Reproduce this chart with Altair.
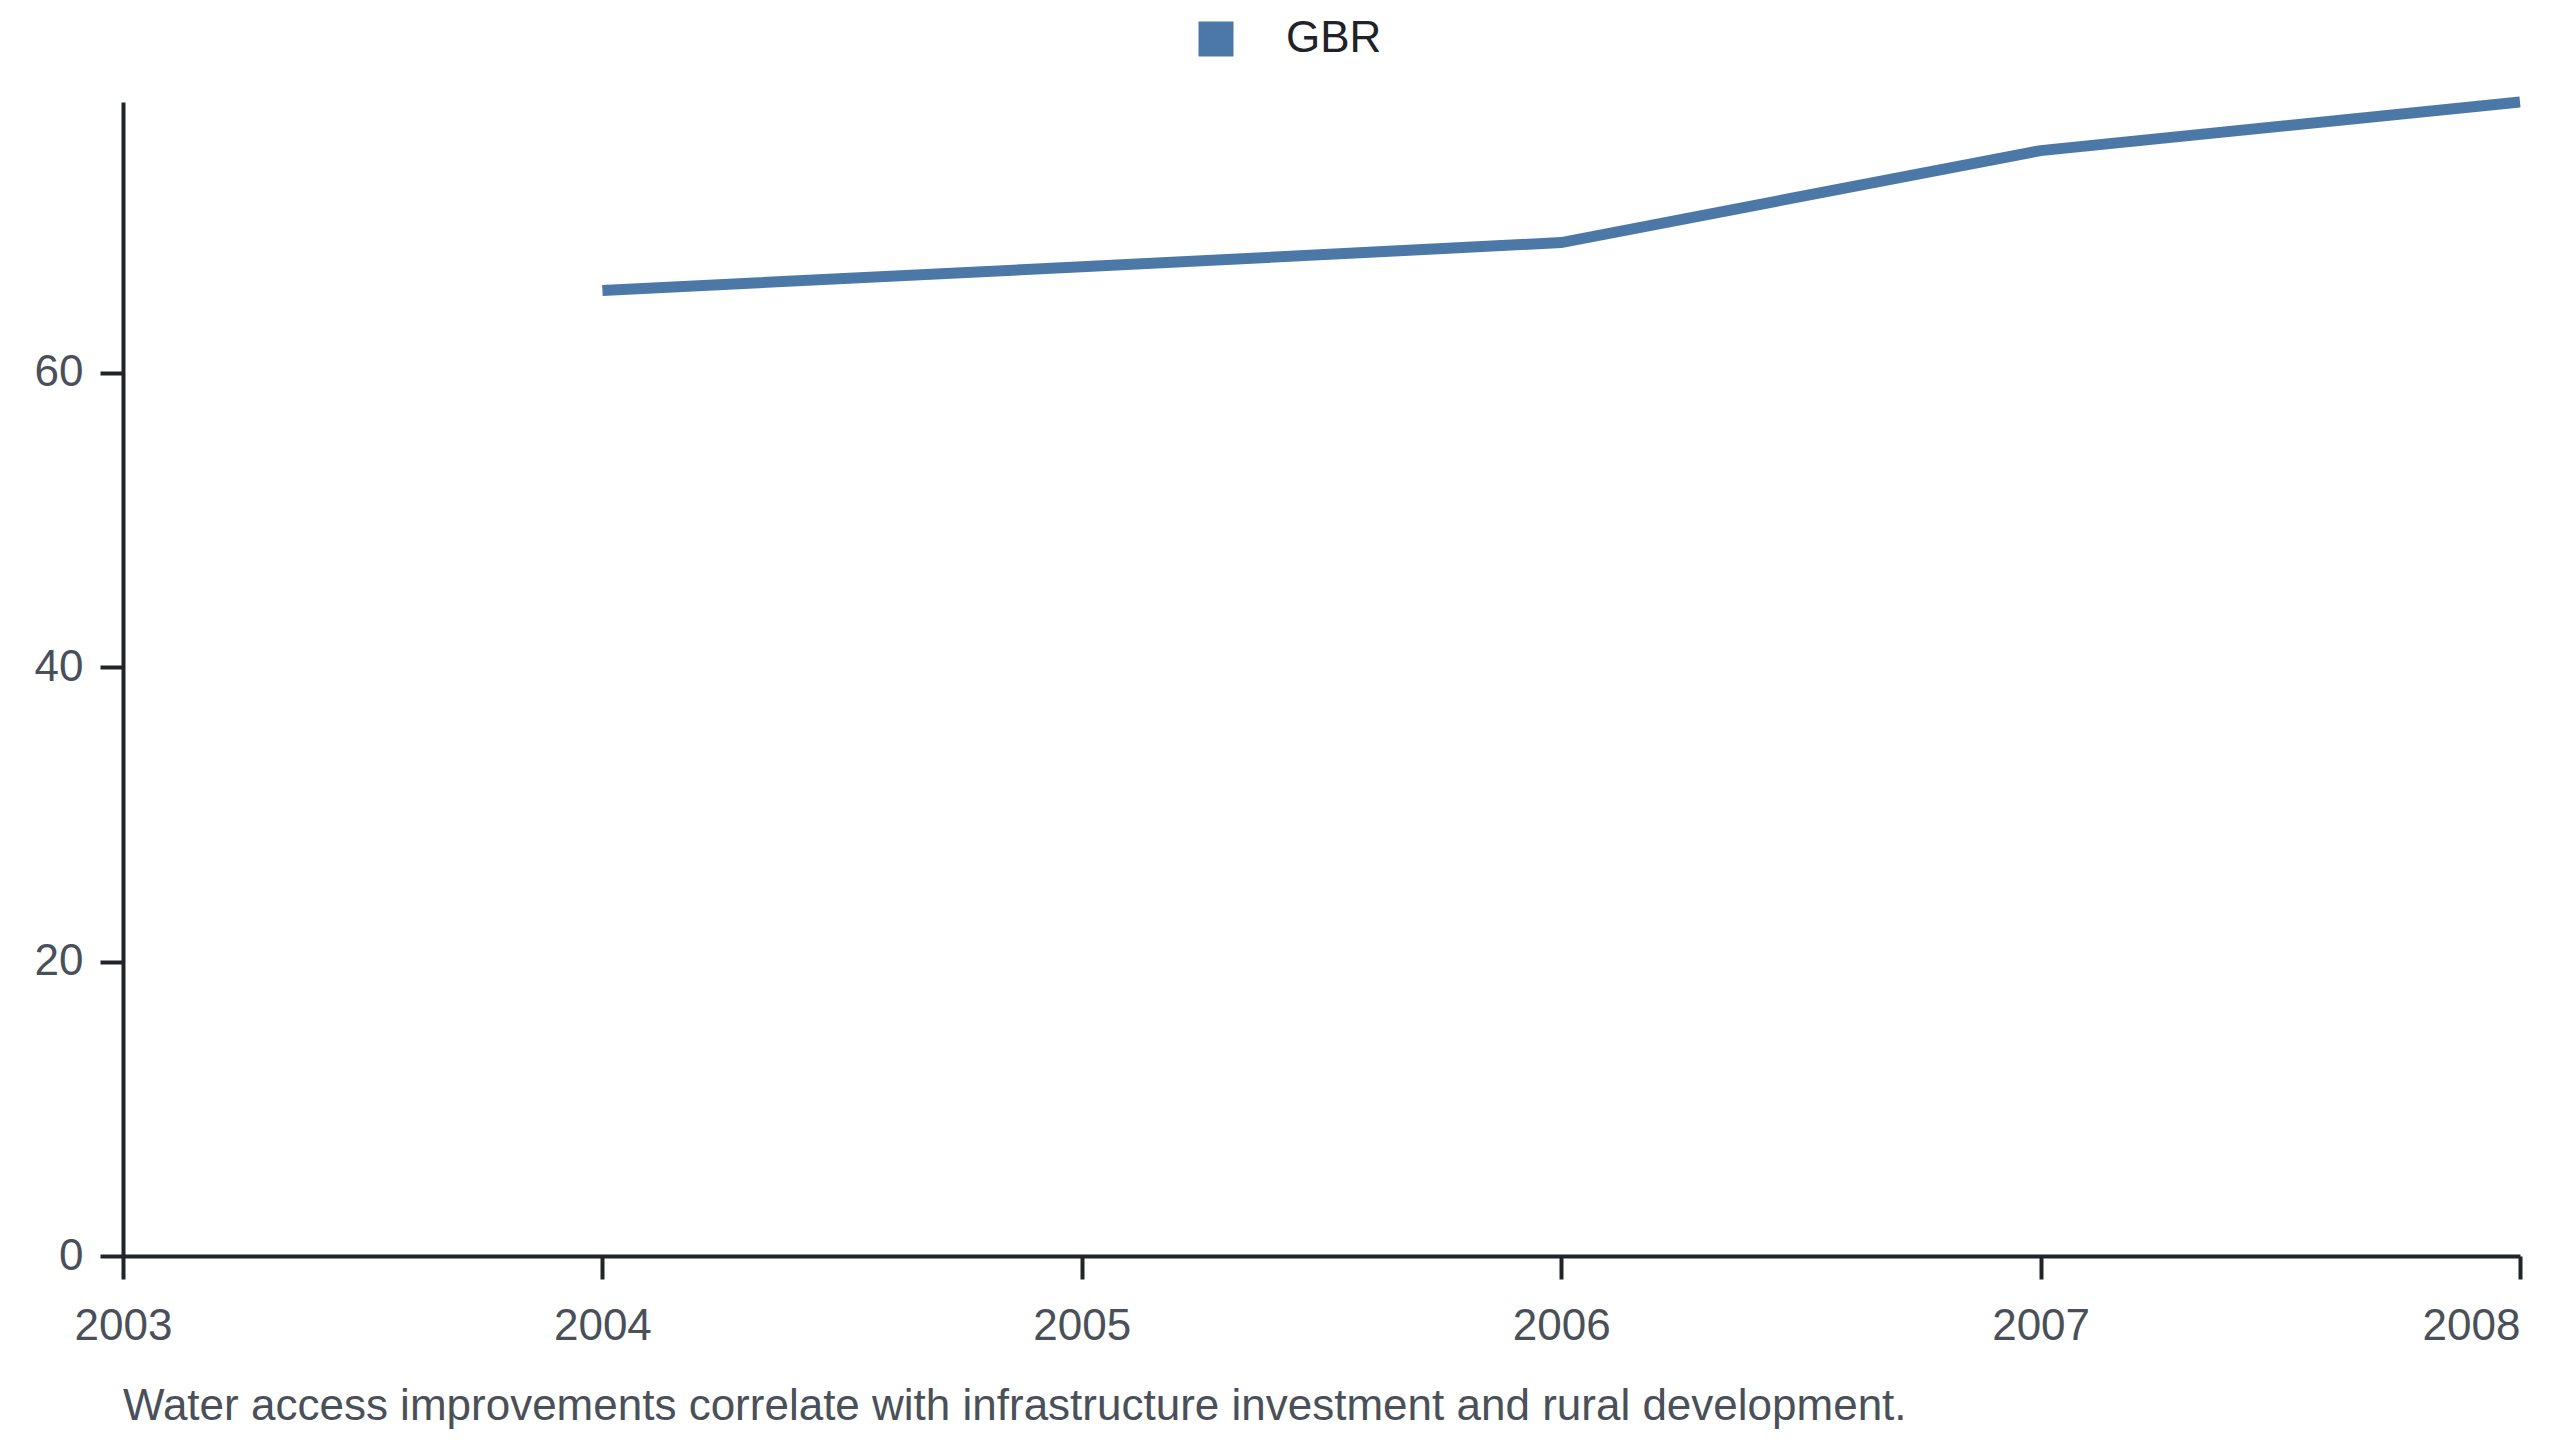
import altair as alt
import pandas as pd

years = [2004, 2005, 2006, 2007, 2008]
values = [65.6, 67.2, 68.85, 75.1, 78.4]
country = ["GBR"] * len(years)
caption = "Water access improvements correlate with infrastructure investment and rural development."

df = pd.DataFrame({"year": years, "value": values, "country": country})

FONT = "Liberation Sans"
BLUE = "#4c78a8"

chart = alt.Chart(df).mark_line(strokeWidth=11, color=BLUE).encode(
    x=alt.X(
        "year:Q",
        scale=alt.Scale(domain=[2003, 2008], nice=False, zero=False),
        axis=alt.Axis(
            title=None,
            values=[2003, 2004, 2005, 2006, 2007, 2008],
            format="d",
            grid=False,
            domainColor="#212428",
            domainWidth=4,
            tickColor="#212428",
            tickWidth=4,
            tickSize=23,
            labelFont=FONT,
            labelFontSize=44,
            labelColor="#4a5059",
            labelPadding=25,
            labelAlign={"condition": {"test": "datum.value == 2008", "value": "right"}, "value": "center"},
        ),
    ),
    y=alt.Y(
        "value:Q",
        scale=alt.Scale(domain=[0, 78.4], nice=False),
        axis=alt.Axis(
            title=None,
            values=[0, 20, 40, 60],
            grid=False,
            domainColor="#212428",
            domainWidth=4,
            tickColor="#212428",
            tickWidth=4,
            tickSize=23,
            labelFont=FONT,
            labelFontSize=44,
            labelColor="#4a5059",
            labelPadding=17,
        ),
    ),
    color=alt.Color(
        "country:N",
        scale=alt.Scale(range=[BLUE]),
        legend=alt.Legend(
            title=None,
            orient="none",
            legendX=1071,
            legendY=-85,
            padding=0,
            symbolType="square",
            symbolSize=1225,
            symbolFillColor=BLUE,
            symbolStrokeColor=BLUE,
            symbolStrokeWidth=0,
            symbolOpacity=1,
            labelFont=FONT,
            labelFontSize=44,
            labelColor="#1f2329",
            labelOffset=48,
        ),
    ),
).properties(
    width=2397,
    height=1154,
    padding={"left": 115, "top": 94, "right": 32, "bottom": 176},
    autosize=alt.AutoSizeParams(type="none"),
    title=alt.TitleParams(
        text=caption,
        orient="bottom",
        anchor="start",
        frame="group",
        font=FONT,
        fontSize=44,
        fontWeight="normal",
        color="#4a5059",
        offset=37,
    ),
).configure_view(stroke=None)

chart.save("out.html", embed_options={"renderer": "svg", "actions": False})
